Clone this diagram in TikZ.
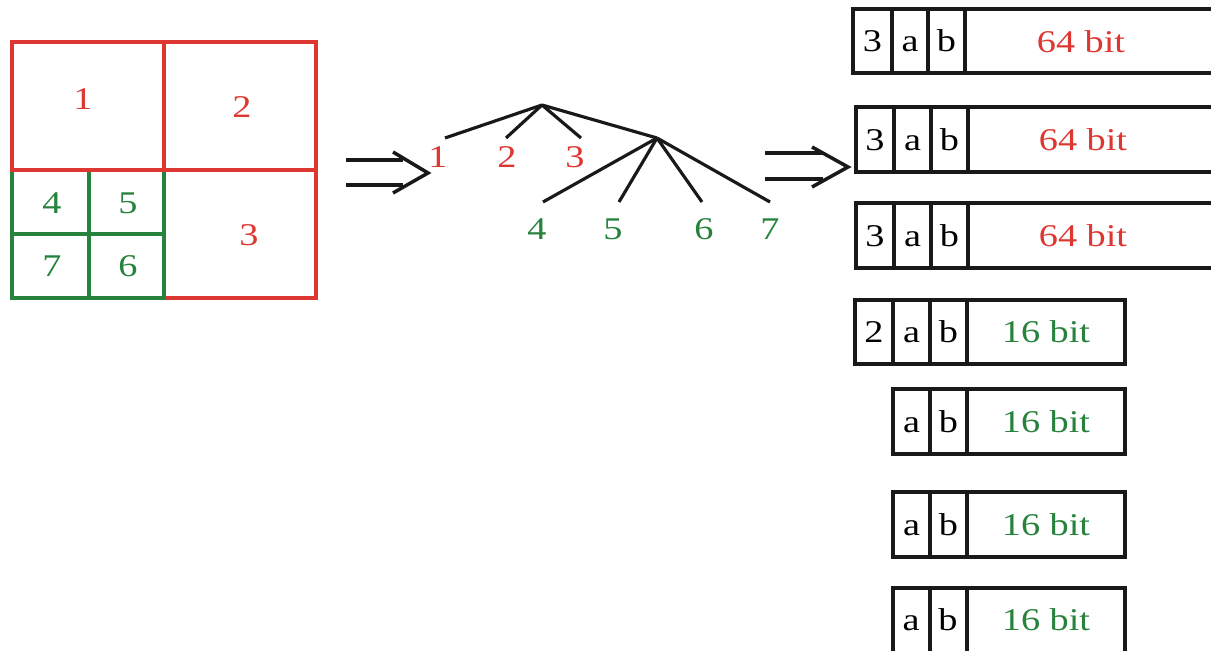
\documentclass[tikz,border=0pt]{standalone}
\usepackage{fontspec}
\setmainfont{Liberation Serif}[FakeStretch=1.21]
\definecolor{qred}{RGB}{222,55,50}
\definecolor{qgreen}{RGB}{38,130,60}

% a rectangular node given by its corners: style, name, x0, y0, x1, y1, text
\newcommand\rectnode[7]{%
  \node[#1,minimum width={(#5-#3)*0.02cm},minimum height={(#6-#4)*0.02cm}]
    (#2) at ({(#3+#5)/2},{(#4+#6)/2}) {#7};}

\begin{document}
\begin{tikzpicture}[x=0.02cm,y=-0.02cm,
  every node/.style={font=\fontsize{18}{21}\selectfont,inner sep=0pt,
    text height=12.2pt,text depth=0pt},
  redcell/.style={draw=qred,line width=1.8pt},
  greencell/.style={draw=qgreen,line width=1.8pt},
  field/.style={draw=black!90,line width=1.8pt},
  branch/.style={line width=1.8pt,black!90},
  implies/.style={line width=2pt,black!90},
  rednum/.style={text=qred},
  greennum/.style={text=qgreen}]
\useasboundingbox (0,0) rectangle (1211,651);
\clip (0,0) rectangle (1211,651);

% ---- quadtree partition ----
\rectnode{redcell}{q3}{164}{170}{316}{298}{}
\rectnode{greencell}{q4}{12}{170}{89}{234}{}
\rectnode{greencell}{q5}{89}{170}{164}{234}{}
\rectnode{greencell}{q7}{12}{234}{89}{298}{}
\rectnode{greencell}{q6}{89}{234}{164}{298}{}
\rectnode{redcell}{q1}{12}{42}{164}{170}{}
\rectnode{redcell}{q2}{164}{42}{316}{170}{}
\node[rednum] (n1) at (83,99) {1};
\node[rednum] (n2) at (242,107) {2};
\node[rednum] (n3) at (249,235) {3};
\node[greennum] (n4) at (52,203) {4};
\node[greennum] (n5) at (128,203) {5};
\node[greennum] (n7) at (52,266) {7};
\node[greennum] (n6) at (128,266) {6};

% ---- first implication arrow ----
\coordinate (a1s) at (346,160); \coordinate (a1e) at (403,160);
\coordinate (a2s) at (346,185); \coordinate (a2e) at (403,185);
\coordinate (ah1) at (393,152); \coordinate (atip) at (428,173);
\coordinate (ah2) at (393,193);
\draw[implies] (a1s) -- (a1e);
\draw[implies] (a2s) -- (a2e);
\draw[implies] (ah1) -- (atip) -- (ah2);

% ---- tree ----
\coordinate (root) at (542,105);
\coordinate (mid) at (657,138);
\coordinate (e1) at (445,138);
\coordinate (e2) at (506,138);
\coordinate (e3) at (581,138);
\coordinate (e4) at (543,202);
\coordinate (e5) at (619,202);
\coordinate (e6) at (702,202);
\coordinate (e7) at (770,202);
\draw[branch] (root) -- (e1);
\draw[branch] (root) -- (e2);
\draw[branch] (root) -- (e3);
\draw[branch] (root) -- (mid);
\draw[branch] (mid) -- (e4);
\draw[branch] (mid) -- (e5);
\draw[branch] (mid) -- (e6);
\draw[branch] (mid) -- (e7);
\node[rednum] (t1) at (438,157) {1};
\node[rednum] (t2) at (507,157) {2};
\node[rednum] (t3) at (575,157) {3};
\node[greennum] (t4) at (537,229) {4};
\node[greennum] (t5) at (613,229) {5};
\node[greennum] (t6) at (704,229) {6};
\node[greennum] (t7) at (770,229) {7};

% ---- second implication arrow ----
\coordinate (b1s) at (765,153); \coordinate (b1e) at (823,153);
\coordinate (b2s) at (765,179); \coordinate (b2e) at (823,179);
\coordinate (bh1) at (812,147); \coordinate (btip) at (848,167);
\coordinate (bh2) at (812,187);
\draw[implies] (b1s) -- (b1e);
\draw[implies] (b2s) -- (b2e);
\draw[implies] (bh1) -- (btip) -- (bh2);

% ---- encoded records ----
% row 1
\rectnode{field}{r1d}{853}{9}{892}{73}{3}
\rectnode{field}{r1a}{892}{9}{928}{73}{a}
\rectnode{field}{r1b}{928}{9}{965}{73}{b}
\rectnode{field}{r1v}{965}{9}{1240}{73}{}
\node[rednum] (r1t) at (1081,42) {64 bit};
% row 2
\rectnode{field}{r2d}{856}{107}{894}{172}{3}
\rectnode{field}{r2a}{894}{107}{931}{172}{a}
\rectnode{field}{r2b}{931}{107}{968}{172}{b}
\rectnode{field}{r2v}{968}{107}{1240}{172}{}
\node[rednum] (r2t) at (1083,139.5) {64 bit};
% row 3
\rectnode{field}{r3d}{856}{203}{894}{268}{3}
\rectnode{field}{r3a}{894}{203}{931}{268}{a}
\rectnode{field}{r3b}{931}{203}{968}{268}{b}
\rectnode{field}{r3v}{968}{203}{1240}{268}{}
\node[rednum] (r3t) at (1083,235.5) {64 bit};
% row 4
\rectnode{field}{r4d}{855}{300}{893}{364}{2}
\rectnode{field}{r4a}{893}{300}{930}{364}{a}
\rectnode{field}{r4b}{930}{300}{967}{364}{b}
\rectnode{field,greennum}{r4v}{967}{300}{1125}{364}{16 bit}
% rows 5-7
\rectnode{field}{r5a}{893}{389}{930}{454}{a}
\rectnode{field}{r5b}{930}{389}{967}{454}{b}
\rectnode{field,greennum}{r5v}{967}{389}{1125}{454}{16 bit}
\rectnode{field}{r6a}{893}{492}{930}{557}{a}
\rectnode{field}{r6b}{930}{492}{967}{557}{b}
\rectnode{field,greennum}{r6v}{967}{492}{1125}{557}{16 bit}
% last row runs past the lower edge
\rectnode{field}{r7a}{893}{588}{930}{670}{}
\rectnode{field}{r7b}{930}{588}{967}{670}{}
\rectnode{field}{r7v}{967}{588}{1125}{670}{}
\node (r7at) at (911,620) {a};
\node (r7bt) at (948,620) {b};
\node[greennum] (r7t) at (1046,620) {16 bit};
\end{tikzpicture}
\end{document}
